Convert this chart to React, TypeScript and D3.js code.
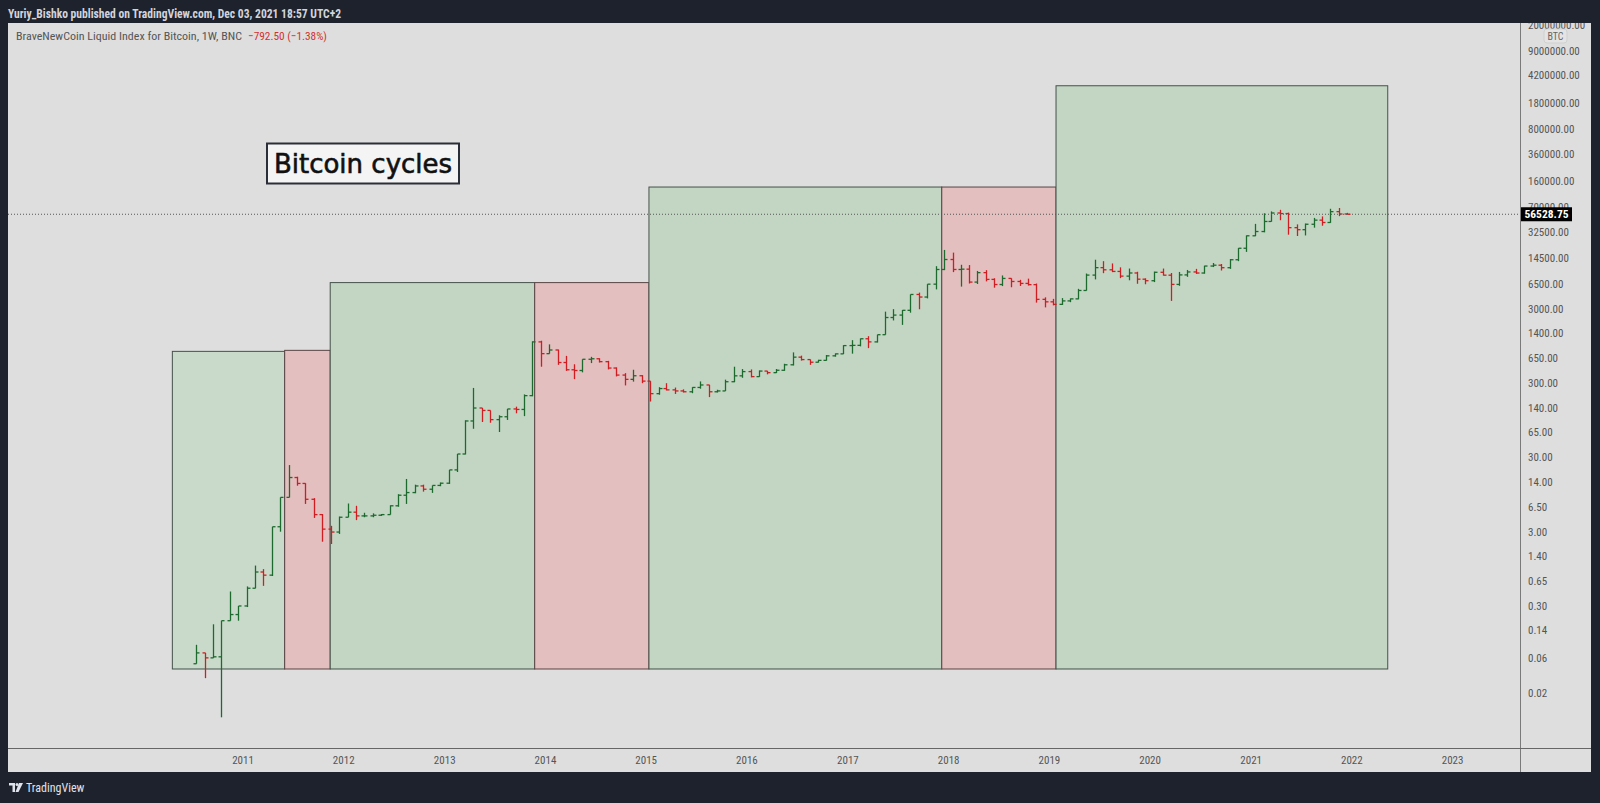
import React from "react";
import * as d3 from "d3";

// ---------------- DATA ----------------
const yearLabels = ["2011", "2012", "2013", "2014", "2015", "2016", "2017", "2018", "2019", "2020", "2021", "2022", "2023"];

const priceTicks = [0.02, 0.06, 0.14, 0.3, 0.65, 1.4, 3, 6.5, 14, 30, 65, 140, 300, 650, 1400, 3000, 6500, 14500, 32500, 70000, 160000, 360000, 800000, 1800000, 4200000, 9000000, 20000000];

// Monthly OHLC [open, high, low, close], BraveNewCoin Liquid Index for Bitcoin
const firstMonth = "2010-07";
const ohlc2010 = [
  [0.05, 0.09, 0.05, 0.07], [0.07, 0.07, 0.032, 0.06], [0.06, 0.17, 0.06, 0.062],
  [0.062, 0.19, 0.0095, 0.19], [0.19, 0.47, 0.19, 0.23], [0.23, 0.3, 0.19, 0.3],
];
const ohlc2011 = [
  [0.3, 0.55, 0.29, 0.52], [0.52, 1.05, 0.52, 0.86], [0.86, 0.94, 0.56, 0.78], [0.78, 3.5, 0.76, 3.5],
  [3.5, 8.7, 3.0, 8.7], [8.7, 23.7, 8.7, 16.1], [16.1, 16.5, 12.5, 13.4], [13.4, 13.5, 7.1, 8.2],
  [8.2, 8.5, 4.6, 5.1], [5.1, 5.2, 2.2, 3.25], [3.25, 3.6, 2.05, 2.97], [2.97, 4.8, 2.8, 4.7],
];
const ohlc2012 = [
  [4.7, 7.2, 4.7, 5.5], [5.5, 6.7, 4.3, 4.9], [4.9, 5.4, 4.7, 4.9], [4.9, 5.3, 4.7, 5.0],
  [5.0, 5.2, 4.9, 5.1], [5.1, 6.8, 5.1, 6.7], [6.7, 9.6, 6.5, 9.3], [9.3, 15.4, 7.1, 10.1],
  [10.1, 12.9, 9.9, 12.4], [12.4, 12.9, 10.4, 11.2], [11.2, 12.6, 10.0, 12.6], [12.6, 13.8, 12.3, 13.5],
];
const ohlc2013 = [
  [13.5, 20.4, 13.2, 20.4], [20.4, 33.4, 19.1, 33.4], [33.4, 95, 33, 93], [93, 259, 73, 139],
  [139, 139, 90, 129], [129, 129, 88, 97], [97, 111, 66, 106], [106, 135, 96, 135],
  [135, 145, 118, 133], [133, 212, 108, 204], [204, 1100, 200, 1080], [1080, 1120, 500, 750],
];
const ohlc2014 = [
  [750, 1000, 750, 840], [840, 850, 530, 570], [570, 700, 440, 455], [455, 540, 340, 445],
  [445, 630, 420, 630], [630, 680, 560, 640], [640, 650, 570, 585], [585, 600, 460, 480],
  [480, 490, 370, 386], [386, 410, 280, 338], [338, 455, 315, 378], [378, 385, 300, 320],
];
const ohlc2015 = [
  [320, 320, 170, 217], [217, 265, 210, 254], [254, 300, 240, 244], [244, 262, 215, 236],
  [236, 248, 225, 230], [230, 265, 220, 263], [263, 317, 253, 284], [284, 285, 195, 230],
  [230, 245, 225, 236], [236, 335, 236, 314], [314, 500, 310, 377], [377, 465, 355, 430],
];
const ohlc2016 = [
  [430, 460, 360, 368], [368, 445, 365, 437], [437, 439, 395, 416], [416, 466, 412, 448],
  [448, 548, 440, 531], [531, 780, 520, 673], [673, 705, 605, 624], [624, 626, 530, 575],
  [575, 620, 570, 609], [609, 720, 604, 701], [701, 755, 683, 745], [745, 975, 741, 963],
];
const ohlc2017 = [
  [963, 1140, 750, 970], [970, 1200, 940, 1190], [1190, 1290, 890, 1080], [1080, 1350, 1060, 1350],
  [1350, 2760, 1350, 2300], [2300, 2980, 2100, 2480], [2480, 2900, 1830, 2875], [2875, 4700, 2670, 4700],
  [4700, 4980, 2970, 4340], [4340, 6470, 4160, 6470], [6470, 11300, 5500, 10200], [10200, 18700, 10000, 13900],
];
const ohlc2018 = [
  [13900, 17200, 9400, 10200], [10200, 11800, 6000, 10300], [10300, 11700, 6600, 6900], [6900, 9750, 6500, 9250],
  [9250, 9990, 7050, 7500], [7500, 7770, 5800, 6400], [6400, 8480, 6100, 7730], [7730, 7760, 5880, 7030],
  [7030, 7400, 6120, 6620], [6620, 7680, 6200, 6370], [6370, 6600, 3650, 4040], [4040, 4300, 3150, 3740],
];
const ohlc2019 = [
  [3740, 4100, 3350, 3460], [3460, 4200, 3400, 3850], [3850, 4150, 3700, 4100], [4100, 5600, 4050, 5320],
  [5320, 9000, 5300, 8570], [8570, 13800, 7500, 10800], [10800, 13200, 9100, 10100], [10100, 12300, 9400, 9600],
  [9600, 10900, 7800, 8300], [8300, 10500, 7300, 9150], [9150, 9500, 6550, 7550], [7550, 7750, 6450, 7200],
];
const ohlc2020 = [
  [7200, 9550, 6900, 9350], [9350, 10500, 8450, 8550], [8550, 9150, 3850, 6420], [6420, 9450, 6150, 8620],
  [8620, 10050, 8120, 9450], [9450, 10400, 8900, 9140], [9140, 11450, 8960, 11350], [11350, 12470, 11000, 11650],
  [11650, 12080, 9880, 10780], [10780, 14100, 10400, 13800], [13800, 19800, 13200, 19700], [19700, 29300, 17600, 28990],
];
const ohlc2021 = [
  [28990, 41950, 28700, 33100], [33100, 58350, 32300, 45200], [45200, 61800, 45000, 58800], [58800, 64900, 47000, 57750],
  [57750, 59500, 30000, 37300], [37300, 41300, 28800, 35040], [35040, 42400, 29300, 41460], [41460, 50500, 37300, 47100],
  [47100, 52900, 39600, 43800], [43800, 67000, 43300, 61300], [61300, 68600, 53300, 57000], [57000, 59100, 55900, 56528.75],
];

// Cycle boxes
const cycleStart = ["2010-04-20", "2011-06-01", "2011-11-13", "2013-11-23", "2015-01-11", "2017-12-07", "2019-01-25"];
const cycleEnd = ["2011-06-01", "2011-11-13", "2013-11-23", "2015-01-11", "2017-12-07", "2019-01-25", "2022-05-11"];
const cycleTop = [805, 831, 6790, 6790, 131500, 131500, 3040000];
const cycleKind = ["bull", "bear", "bull", "bear", "bull", "bear", "bull"];
const cycleBottom = 0.0425;

const lastPrice = 56528.75;
const headerText = "Yuriy_Bishko published on TradingView.com, Dec 03, 2021 18:57 UTC+2";
const legendText = "BraveNewCoin Liquid Index for Bitcoin, 1W, BNC";
const changeText = "\u2212792.50 (\u22121.38%)";
const titleText = "Bitcoin cycles";

// ---------------- LAYOUT / STYLE ----------------
const W = 1600, H = 803;
const paneL = 8, paneT = 23, paneR = 1591, paneB = 772;
const plotR = 1520, plotB = 748;
const narrow = "'Liberation Sans Narrow', 'Roboto Condensed', 'Liberation Sans', Arial, sans-serif";
const upColor = "#1d6a2e";
const downColor = "#cf1d22";
const fills: Record<string, string> = { bull: "#c3d6c3", bear: "#e3bfbf" };
const firstBoxFill = "#c9dacb";
const strokes: Record<string, string> = { bull: "#44524a", bear: "#5a4444" };

const allBars = [ohlc2010, ohlc2011, ohlc2012, ohlc2013, ohlc2014, ohlc2015, ohlc2016, ohlc2017, ohlc2018, ohlc2019, ohlc2020, ohlc2021].flat();

export default function App() {
  const x = d3.scaleTime().domain([new Date(2011, 0, 1), new Date(2023, 0, 1)]).range([243, 1452.6]);
  const y = d3.scaleLog().domain([0.02, 20000000]).range([693.3, 25]);
  const [fy, fm] = firstMonth.split("-").map(Number);
  const fmt = (v: number) => v.toFixed(2);
  const parse = d3.timeParse("%Y-%m-%d");

  return (
    <svg width={W} height={H} style={{ position: "fixed", left: 0, top: 0, display: "block" }}>
      <defs>
        <clipPath id="plotClip"><rect x={paneL} y={paneT} width={plotR - paneL} height={plotB - paneT} /></clipPath>
        <clipPath id="axisClip"><rect x={plotR} y={paneT} width={paneR - plotR} height={plotB - paneT} /></clipPath>
      </defs>
      <rect x={0} y={0} width={W} height={H} fill="#1e222d" />
      <text x={8} y={18} fill="#d1d4dc" fontFamily={narrow} fontWeight="bold" fontSize={12.5} textLength={333} lengthAdjust="spacingAndGlyphs">{headerText}</text>
      <rect x={paneL} y={paneT} width={paneR - paneL} height={paneB - paneT} fill="#dedede" />

      <g clipPath="url(#plotClip)">
        {cycleStart.map((s, i) => {
          const x0 = x(parse(s)!), x1 = x(parse(cycleEnd[i])!);
          const y0 = y(cycleTop[i]), y1 = y(cycleBottom);
          return <rect key={i} x={x0} y={y0} width={x1 - x0} height={y1 - y0} fill={i === 0 ? firstBoxFill : fills[cycleKind[i]]} stroke={strokes[cycleKind[i]]} strokeWidth={1} />;
        })}
        {allBars.map((b, i) => {
          const d = new Date(fy, fm - 1 + i, 15);
          const cx = Math.round(x(d)) + 0.5;
          const [o, h, l, c] = b;
          const col = c >= o ? upColor : downColor;
          return (
            <g key={i} stroke={col} strokeWidth={1.3}>
              <line x1={cx} x2={cx} y1={y(h)} y2={y(l)} />
              <line x1={cx - 3} x2={cx} y1={y(o)} y2={y(o)} />
              <line x1={cx} x2={cx + 3} y1={y(c)} y2={y(c)} />
            </g>
          );
        })}
        <line x1={paneL} x2={plotR} y1={y(lastPrice)} y2={y(lastPrice)} stroke="#555" strokeWidth={1} strokeDasharray="1 2" />
        <rect x={267} y={143.5} width={192} height={40} fill="#f4f4f4" stroke="#2a2e39" strokeWidth={2} />
        <text x={363} y={172.5} textAnchor="middle" fontFamily="'DejaVu Sans', sans-serif" fontSize={26} fill="#111" stroke="#111" strokeWidth={0.6}>{titleText}</text>
      </g>

      <text x={16} y={40} fontFamily={narrow} fontSize={11.5} fill="#555" textLength={226} lengthAdjust="spacingAndGlyphs">{legendText}</text>
      <text x={248} y={40} fontFamily={narrow} fontSize={11.5} fill="#d3302f" textLength={79} lengthAdjust="spacingAndGlyphs">{changeText}</text>

      {/* axes */}
      <line x1={plotR + 0.5} x2={plotR + 0.5} y1={paneT} y2={paneB} stroke="#7a7a7a" />
      <line x1={paneL} x2={paneR} y1={plotB + 0.5} y2={plotB + 0.5} stroke="#666" />
      <g clipPath="url(#axisClip)">
        {priceTicks.map((v) => (
          <text key={v} x={1528} y={y(v)} dy="0.35em" fontFamily={narrow} fontSize={11} fill="#555">{fmt(v)}</text>
        ))}
        <rect x={1544} y={29} width={23} height={14} rx={3} fill="#e4e4e4" stroke="#d0d0d0" />
        <text x={1555.5} y={36} dy="0.35em" textAnchor="middle" fontFamily={narrow} fontSize={10} fill="#666">BTC</text>
        <rect x={plotR + 1} y={y(lastPrice) - 7} width={51} height={14} fill="#000" />
        <text x={plotR + 26.5} y={y(lastPrice)} dy="0.35em" textAnchor="middle" fontFamily={narrow} fontWeight="bold" fontSize={11.5} fill="#fff">{fmt(lastPrice)}</text>
      </g>
      {yearLabels.map((t) => (
        <text key={t} x={x(new Date(+t, 0, 1))} y={760} dy="0.35em" textAnchor="middle" fontFamily={narrow} fontSize={11} fill="#555">{t}</text>
      ))}

      {/* footer logo */}
      <g transform="translate(9,783)" fill="#e0e3eb">
        <path d="M0 0 H6 V9 H3.5 V2.5 H0 Z" />
        <circle cx={8} cy={1.5} r={1.5} />
        <path d="M10 0 H14 L9.5 9 H6.5 Z" />
      </g>
      <text x={26} y={792} fontFamily={narrow} fontSize={12} fill="#e0e3eb">TradingView</text>
    </svg>
  );
}
